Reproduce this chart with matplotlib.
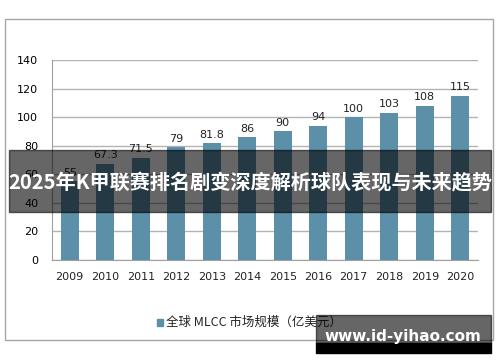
import numpy as np
import matplotlib
matplotlib.use('Agg')
import matplotlib.pyplot as plt
from matplotlib.patches import Rectangle

plt.rcParams['font.family'] = ['Noto Sans CJK SC', 'DejaVu Sans']

# data
years = ['2009', '2010', '2011', '2012', '2013', '2014',
         '2015', '2016', '2017', '2018', '2019', '2020']
market = [55, 67.3, 71.5, 79, 81.8, 86, 90, 94, 100, 103, 108, 115]
value_labels = ['55', '67.3', '71.5', '79', '81.8', '86',
                '90', '94', '100', '103', '108', '115']
y_ticks = [0, 20, 40, 60, 80, 100, 120, 140]
legend_label = '全球 MLCC 市场规模（亿美元）'
banner = '2025年K甲联赛排名剧变深度解析球队表现与未来趋势'
watermark = 'www.id-yihao.com'

W, H = 500, 362
fig = plt.figure(figsize=(W / 100, H / 100), dpi=100)
fig.patch.set_facecolor('white')

def px(x, y, w, h):
    # pixel box (top-left origin) -> figure fraction
    return [x / W, 1 - (y + h) / H, w / W, h / H]

# outer chart border
fig.patches.append(Rectangle((5 / W, 1 - 340 / H), 488 / W, 321 / H,
                             transform=fig.transFigure, fill=False,
                             edgecolor='#a6a6a6', lw=1))

ax = fig.add_axes(px(52, 60, 426, 200))
x = np.arange(len(years))
ax.bar(x, market, width=0.5, color='#5b90a8', zorder=3)
for xi, v, lab in zip(x, market, value_labels):
    ax.text(xi, v + 2.5, lab, ha='center', va='bottom', fontsize=8,
            color='#222222', family='DejaVu Sans')

ax.set_xlim(-0.5, len(years) - 0.5)
ax.set_ylim(0, 140)
ax.set_yticks(y_ticks)
ax.set_yticklabels([str(t) for t in y_ticks], fontsize=8, family='DejaVu Sans')
ax.set_xticks(x)
ax.set_xticklabels(years, fontsize=8, family='DejaVu Sans', color='#222222')
ax.tick_params(length=0, pad=9)
ax.tick_params(axis='y', pad=10)
ax.grid(axis='y', color='#b3b3b3', lw=1, zorder=0)
for s in ['top', 'right']:
    ax.spines[s].set_visible(False)
ax.spines['left'].set_color('#a0a0a0')
ax.spines['bottom'].set_color('#a0a0a0')

# legend
fig.patches.append(Rectangle((157 / W, 1 - 326 / H), 6 / W, 7 / H,
                             transform=fig.transFigure, color='#5b90a8'))
fig.text(166 / W, 1 - 322 / H, legend_label, fontsize=9, va='center',
         ha='left', color='#222222')

# banner overlay
fig.patches.append(Rectangle((9 / W, 1 - 212 / H), 482 / W, 62 / H,
                             transform=fig.transFigure, color='black',
                             alpha=0.6, zorder=10))
fig.text(250 / W, 1 - 183 / H, banner, fontsize=14.5, fontweight='bold',
         color='white', ha='center', va='center', zorder=11)

# watermark
fig.patches.append(Rectangle((316 / W, 1 - 343 / H), 175 / W, 28 / H,
                             transform=fig.transFigure, color='black',
                             alpha=0.6, zorder=10))
fig.patches.append(Rectangle((316 / W, 1 - 353 / H), 175 / W, 10 / H,
                             transform=fig.transFigure, color='black', zorder=10))
fig.text(403 / W, 1 - 336 / H, watermark, fontsize=11, fontweight='bold',
         color='white', ha='center', va='center', zorder=11,
         family='DejaVu Sans')

fig.savefig('out.png', dpi=100)
